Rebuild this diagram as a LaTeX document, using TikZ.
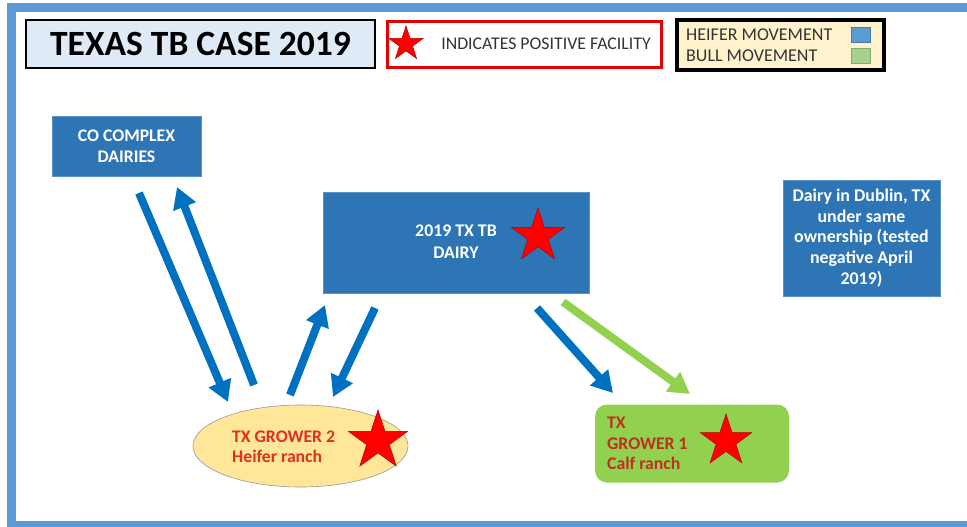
\documentclass[tikz,border=0pt]{standalone}
\usepackage{fontspec}
\setmainfont{Carlito}
\usetikzlibrary{shapes.geometric,arrows.meta}
\definecolor{framebl}{HTML}{5B9BD5}
\definecolor{boxbl}{HTML}{2E75B6}
\definecolor{arrbl}{HTML}{0070C0}
\definecolor{titlefill}{HTML}{DEEBF7}
\definecolor{legfill}{HTML}{FFF2CC}
\definecolor{ellfill}{HTML}{FFE699}
\definecolor{grfill}{HTML}{92D050}
\definecolor{grarr}{HTML}{92D050}
\definecolor{sqgreen}{HTML}{A9D18E}
\definecolor{starred}{HTML}{FF0000}
\definecolor{txtred}{HTML}{E03020}
\definecolor{txtred2}{HTML}{C0301E}
\definecolor{legtxt}{HTML}{333333}
\newcommand{\fs}[2]{\fontsize{#1}{#2}\selectfont}
\tikzset{
  darkbox/.style={fill=boxbl, draw=boxbl!80!white, line width=0.6pt, text=white, align=center, inner sep=0pt},
  redstar/.style={star, star points=5, star point ratio=2.6, fill=starred, draw=red!70!black, line width=0.5pt, inner sep=0pt},
  blockarrow/.style={line width=8pt, line cap=butt, -{Triangle[length=21pt,width=23pt]}},
}
\begin{document}
\begin{tikzpicture}[x=1pt,y=-1pt]
\useasboundingbox (0,0) rectangle (967,527);
% frame
\fill[framebl] (7,3) rectangle (967,12);
\fill[framebl] (7,3) rectangle (16,527);
\fill[framebl] (7,521) rectangle (967,527);
% title
\node[draw=black, line width=2.5pt, fill=titlefill, minimum width=349pt, minimum height=48pt, inner sep=0pt, font=\bfseries\fs{35.5}{40}] (title) at (200.5,44) {TEXAS TB CASE 2019};
% red legend
\node[draw=red!90!black, line width=3pt, fill=white, minimum width=274pt, minimum height=46pt, inner sep=0pt] (legred) at (524,45) {};
\node[redstar, minimum size=36pt] (legstar) at (406,44) {};
\node[text=legtxt, font=\fs{17.8}{21}, inner sep=0pt] (legtext) at (546,44) {INDICATES POSITIVE FACILITY};
% black legend
\node[draw=black, line width=4pt, fill=legfill, minimum width=207pt, minimum height=50pt, inner sep=0pt] (legblk) at (780.5,45) {};
\node[anchor=west, text=legtxt, font=\fs{18}{21}, inner sep=0pt] (heifer) at (686,35) {HEIFER MOVEMENT};
\node[anchor=west, text=legtxt, font=\fs{18}{21}, inner sep=0pt] (bull) at (686,56) {BULL MOVEMENT};
\node[fill=framebl, draw=framebl!80!black, line width=0.4pt, minimum width=19pt, minimum height=15pt, inner sep=0pt] (sqb) at (860.5,34.5) {};
\node[fill=sqgreen, draw=sqgreen!80!black, line width=0.4pt, minimum width=19pt, minimum height=15pt, inner sep=0pt] (sqg) at (860.5,55.5) {};
% boxes
\node[darkbox, minimum width=149pt, minimum height=60pt, font=\bfseries\fs{17.7}{21}] (co) at (126.5,146) {CO COMPLEX\\DAIRIES};
\node[darkbox, minimum width=266pt, minimum height=101pt] (dairy) at (456,242.5) {};
\node[text=white, font=\bfseries\fs{17.8}{22}, align=center, inner sep=0pt] (dairytxt) at (456,242) {2019 TX TB\\DAIRY};
\node[redstar, minimum size=56pt] (dairystar) at (538,236) {};
\node[darkbox, minimum width=157pt, minimum height=116pt, font=\bfseries\fs{17.9}{20.7}] (dublin) at (861.5,238) {Dairy in Dublin, TX\\under same\\ownership (tested\\negative April\\2019)};
% grower 2
\node[ellipse, fill=ellfill, draw=black!40, line width=0.6pt, minimum width=215pt, minimum height=82pt, inner sep=0pt] (g2) at (300.5,446) {};
\node[anchor=west, text=txtred, font=\bfseries\fs{17.7}{20}, align=left, inner sep=0pt] (g2txt) at (232,447) {TX GROWER 2\\Heifer ranch};
\node[redstar, minimum size=62pt] (g2star) at (378,441) {};
% grower 1
\node[fill=grfill, rounded corners=12pt, minimum width=194pt, minimum height=78pt, inner sep=0pt] (g1) at (692,443.5) {};
\node[anchor=west, text=txtred2, font=\bfseries\fs{17.7}{20.5}, align=left, inner sep=0pt] (g1txt) at (607,443.5) {TX\\GROWER 1\\Calf ranch};
\node[redstar, minimum size=54pt] (g1star) at (726,441) {};
% arrow end points
\coordinate (a1s) at (139,193);
\coordinate (a1e) at (228,402);
\coordinate (a2s) at (254,385);
\coordinate (a2e) at (177,187);
\coordinate (a3s) at (290,395);
\coordinate (a3e) at (325,305);
\coordinate (a4s) at (375,308);
\coordinate (a4e) at (333,397);
\coordinate (a5s) at (537,308);
\coordinate (a5e) at (613,393);
\coordinate (a6s) at (563,302);
\coordinate (a6e) at (690,394);
\draw[blockarrow, arrbl] (a1s) -- (a1e);
\draw[blockarrow, arrbl] (a2s) -- (a2e);
\draw[blockarrow, arrbl] (a3s) -- (a3e);
\draw[blockarrow, arrbl] (a4s) -- (a4e);
\draw[blockarrow, arrbl] (a5s) -- (a5e);
\draw[blockarrow, grarr] (a6s) -- (a6e);
\end{tikzpicture}
\end{document}
